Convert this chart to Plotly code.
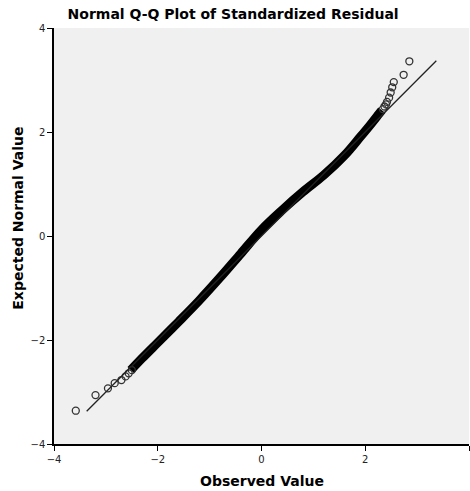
import plotly.graph_objects as go

# Q-Q data (observed residual, expected normal value)
band_observed = [-2.52, -2.30, -2.00, -1.60, -1.20, -0.80, -0.40, 0.00, 0.40, 0.80, 1.20, 1.60, 1.90, 2.10, 2.25, 2.32]
band_expected = [-2.58, -2.35, -2.05, -1.65, -1.24, -0.80, -0.34, 0.12, 0.50, 0.85, 1.17, 1.55, 1.90, 2.14, 2.33, 2.42]

tail_observed = [-3.58, -3.20, -2.96, -2.83, -2.70, -2.62, -2.56, -2.50,
                 2.34, 2.37, 2.40, 2.42, 2.46, 2.49, 2.52, 2.55, 2.74, 2.85]
tail_expected = [-3.36, -3.06, -2.93, -2.83, -2.77, -2.70, -2.64, -2.58,
                 2.44, 2.49, 2.53, 2.58, 2.66, 2.76, 2.86, 2.96, 3.10, 3.36]

ref_line = [-3.37, 3.37]

x_ticks = [-4, -2, 0, 2, 4]
y_ticks = [-4, -2, 0, 2, 4]

fig = go.Figure()
fig.add_trace(go.Scatter(x=band_observed, y=band_expected, mode="lines",
                         line=dict(color="black", width=9, shape="spline", smoothing=1.0),
                         hoverinfo="skip", showlegend=False))
fig.add_trace(go.Scatter(x=tail_observed, y=tail_expected, mode="markers",
                         marker=dict(symbol="circle-open", size=7, color="#333333",
                                     line=dict(width=1.3)),
                         showlegend=False))
fig.add_trace(go.Scatter(x=ref_line, y=ref_line, mode="lines",
                         line=dict(color="#222222", width=1.3), showlegend=False))

axis_common = dict(range=[-4, 4], showgrid=False, zeroline=False, showline=True,
                   linecolor="black", linewidth=1.5, ticks="outside", ticklen=5,
                   tickcolor="black", tickfont=dict(family="DejaVu Sans", size=10, color="#222222"),
                   tickvals=x_ticks)

fig.update_layout(
    width=470, height=491,
    margin=dict(l=54, r=1, t=28, b=47, autoexpand=False),
    paper_bgcolor="white", plot_bgcolor="#f0f0f0",
    xaxis=dict(**axis_common),
    yaxis=dict(**{**axis_common, "tickvals": y_ticks}),
    title=dict(text="<b>Normal Q-Q Plot of Standardized Residual</b>", x=0.496, xref="container",
               y=0.972, yref="container", xanchor="center", yanchor="middle",
               font=dict(family="DejaVu Sans", size=14, color="black")),
    annotations=[
        dict(text="<b>Observed Value</b>", xref="paper", yref="paper", x=0.5, y=-0.09,
             showarrow=False, yanchor="middle", xanchor="center",
             font=dict(family="DejaVu Sans", size=14, color="black")),
        dict(text="<b>Expected Normal Value</b>", xref="paper", yref="y", x=-0.087, y=0.35,
             showarrow=False, textangle=-90, xanchor="center", yanchor="middle",
             font=dict(family="DejaVu Sans", size=14, color="black")),
    ],
)
fig.write_html("out.html", config={"displayModeBar": False},
               post_script="document.body.style.margin='0px';document.body.style.overflow='hidden';"
                           "document.documentElement.style.overflow='hidden';")
